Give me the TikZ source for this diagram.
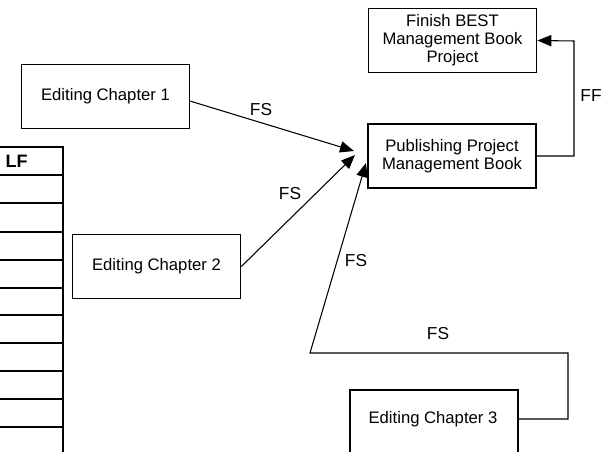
\documentclass[tikz,border=0pt]{standalone}
\usepackage{fontspec}
\setmainfont{Liberation Sans}
\usetikzlibrary{arrows.meta}
\tikzset{
  box/.style={draw, line width=1.3pt, rectangle, minimum width=126pt, minimum height=48pt, inner sep=0pt, align=center, font=\fontsize{12.5}{13.5}\selectfont},
  txt/.style={inner sep=0pt, font=\fontsize{12.5}{13.5}\selectfont},
  conn/.style={line width=0.8pt},
  arr/.style={conn, -{Triangle[length=10.5pt,width=8.5pt]}},
  lab/.style={inner sep=0pt, font=\fontsize{13}{14}\selectfont},
  tbl/.style={line width=1.6pt},
  row/.style={line width=1pt}
}
\begin{document}
\begin{tikzpicture}[x=0.75pt,y=-0.75pt]
\useasboundingbox (0,0) rectangle (606,452);
\clip (0,0) rectangle (606,452);
% boxes
\node[box] (fin) at (452.5,40.5) {Finish BEST\\Management Book\\Project};
\node[box] (pub) at (452,156) {Publishing Project\\Management Book};
\node[box] (ch1) at (105.5,96.5) {Editing Chapter 1};
\node[box] (ch2) at (156.5,266.5) {Editing Chapter 2};
\node[box, anchor=north west, minimum height=60pt] (ch3) at (349,389) {};
\node[txt] (ch3t) at (433,419) {Editing Chapter 3};
% coordinates
\coordinate (tip1) at (354,151);
\coordinate (tip2) at (355,155);
\coordinate (tip3) at (366,163);
\coordinate (c3a) at (568,419);
\coordinate (c3b) at (568,353);
\coordinate (c3c) at (310,353);
\coordinate (ffa) at (574,156);
\coordinate (ffb) at (574,41);
% connectors
\draw[arr] ([yshift=-3.5pt]ch1.east) -- (tip1);
\draw[arr] (ch2.east) -- (tip2);
\draw[arr] (ch3.east |- ch3t) -- (c3a) -- (c3b) -- (c3c) -- (tip3);
\draw[arr] (pub.east) -- (ffa) -- (ffb) -- (fin.east);
% labels
\node[lab] (l1) at (261,110) {FS};
\node[lab] (l2) at (290,194) {FS};
\node[lab] (l3) at (356,261) {FS};
\node[lab] (l4) at (438,334) {FS};
\node[lab] (l5) at (591,96) {FF};
% table
\draw[tbl] (0,147) -- (63,147) -- (63,452);
\draw[tbl] (0,175) -- (63,175);
\foreach \yy in {203,232,260,288,315,343,371,399,427}
  \draw[row] (0,\yy) -- (63,\yy);
\node[inner sep=0pt, font=\fontsize{13.5}{14}\selectfont\bfseries] (lf) at (16.5,161) {LF};
\end{tikzpicture}
\end{document}
